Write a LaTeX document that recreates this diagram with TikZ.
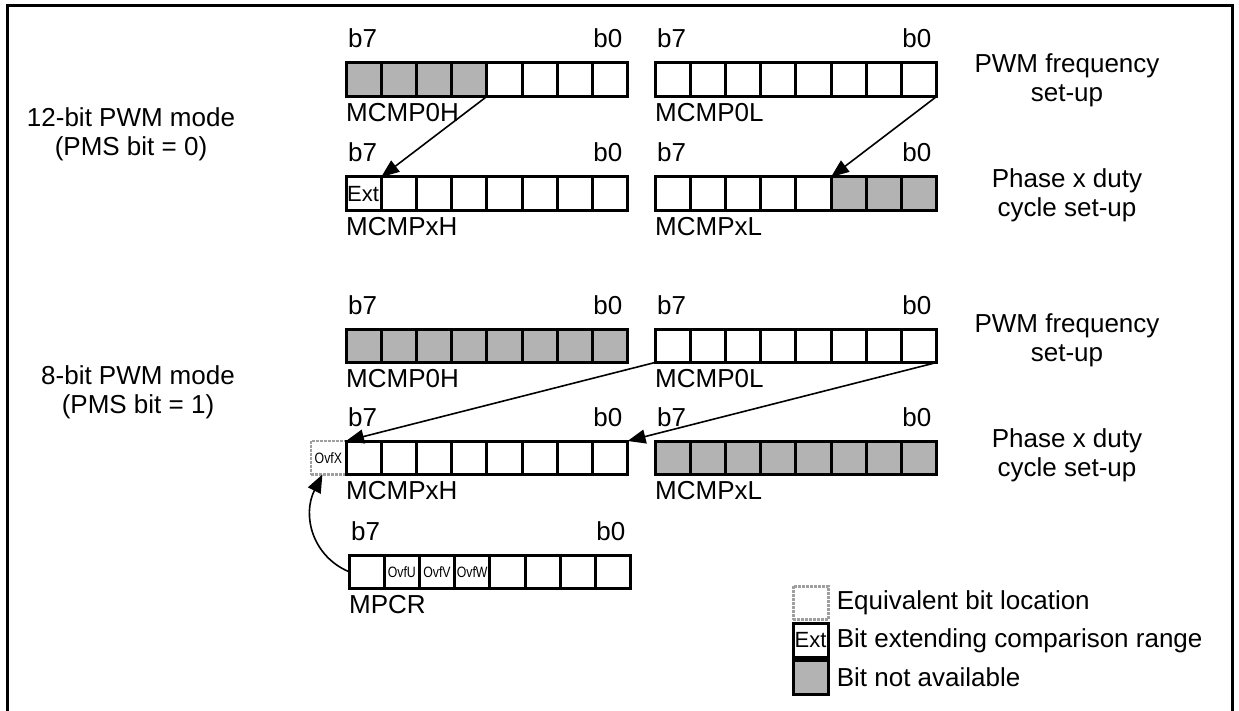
\documentclass[tikz,border=0pt]{standalone}
\usepackage{fontspec}
\setmainfont{Liberation Sans}
\usetikzlibrary{arrows.meta,positioning}
\definecolor{bitgray}{RGB}{179,179,179}
\newcommand{\flagtext}[1]{\scalebox{0.82}[1]{#1}}

\begin{document}
\begin{tikzpicture}[x=1pt,y=-1pt,
    every node/.style={font=\fontsize{26}{29}\selectfont, inner sep=0pt},
    cell/.style={draw, line width=3pt, minimum width=35.2pt, minimum height=33.5pt, outer sep=0pt, fill=white},
    flagbox/.style={cell, draw=gray!75, densely dotted, line width=2.6pt},
    flagtxt/.style={font=\fontsize{15}{15}\selectfont},
    exttxt/.style={font=\fontsize{22}{22}\selectfont, anchor=west},
    sidelbl/.style={align=center},
    arr/.style={-{Triangle[length=18pt,width=14pt]}, line width=1.6pt}]
        \useasboundingbox (0,0) rectangle (1239,711);

        % Rahmen (unten offen)
        \draw[line width=3pt] (7,715) -- (7,6) -- (1232,6) -- (1232,715);

        % Aequivalentes Bit OvfX
        \node[flagbox] (ovfx) at (328.4,457.75) {};
        \node[flagtxt] (ovfx-txt) at (ovfx) {\flagtext{OvfX}};

        % Register: Name / x / y / graue Bits von..bis / Beschriftung
        \foreach \r/\x/\y/\glo/\ghi/\rname in {
            hiA/346/63/4/7/MCMP0H, loA/655/63/9/9/MCMP0L,
            hiB/346/177/9/9/MCMPxH, loB/655/177/0/2/MCMPxL,
            hiC/346/329/0/7/MCMP0H, loC/655/329/9/9/MCMP0L,
            hiD/346/441/9/9/MCMPxH, loD/655/441/0/7/MCMPxL,
            mpcr/349/555/9/9/MPCR} {
            \foreach \b in {7,...,0} {
                \ifnum\b<\glo\relax \def\cfill{white}\else
                    \ifnum\b>\ghi\relax \def\cfill{white}\else \def\cfill{bitgray}\fi\fi
                \node[cell, fill=\cfill] (\r\b) at ({\x+(7-\b)*35.2+17.6}, {\y+16.75}) {};
            }
            \node[anchor=base west] (\r-b7) at ([xshift=2pt,yshift=15pt]\r7.north west) {b7};
            \node[anchor=base east] (\r-b0) at ([xshift=-5pt,yshift=15pt]\r0.north east) {b0};
            \node[anchor=base west] (\r-name) at ([yshift=-25pt]\r7.south west) {\rname};
        }

        % Sonderbits
        \node[exttxt] (ext-txt) at ([xshift=1pt]hiB7.west) {Ext};
        \foreach \b/\t in {6/OvfU, 5/OvfV, 4/OvfW}
            \node[flagtxt] (mpcr-\t) at (mpcr\b) {\flagtext{\t}};

        % Zuordnung der Bits
        \draw[arr] (hiA4.south east) -- (hiB7.north east);
        \draw[arr] (loA0.south east) -- (loB3.north east);
        \draw[arr] (loC7.south west) -- (hiD7.north west);
        \draw[arr] (loC0.south east) -- (hiD0.north east);
        \draw[arr] (mpcr7.west) .. controls (312,556) and (302,515) .. ([xshift=-6pt]ovfx.south);

        % Beschriftungen links und rechts
        \node[sidelbl] (mode12) at (131,134.75) {12-bit PWM mode\\(PMS bit = 0)};
        \node[sidelbl] (mode8) at (138,392.75) {8-bit PWM mode\\(PMS bit = 1)};
        \node[sidelbl] (freqA) at (1067,80.75) {PWM frequency\\set-up};
        \node[sidelbl] (dutyA) at (1067,195.75) {Phase x duty\\cycle set-up};
        \node[sidelbl] (freqC) at (1067,340.75) {PWM frequency\\set-up};
        \node[sidelbl] (dutyC) at (1067,455.75) {Phase x duty\\cycle set-up};

        % Legende
        \node[flagbox] (keyeq) at (811,603) {};
        \node[cell] (keyext) at (811,640.5) {};
        \node[cell, fill=bitgray] (keyna) at (811,677.5) {};
        \node[exttxt] (keyext-txt) at ([xshift=1pt]keyext.west) {Ext};
        \node[right=8pt of keyeq] (keyeq-lbl) {Equivalent bit location};
        \node[right=8pt of keyext] (keyext-lbl) {Bit extending comparison range};
        \node[right=8pt of keyna] (keyna-lbl) {Bit not available};
\end{tikzpicture}
\end{document}
